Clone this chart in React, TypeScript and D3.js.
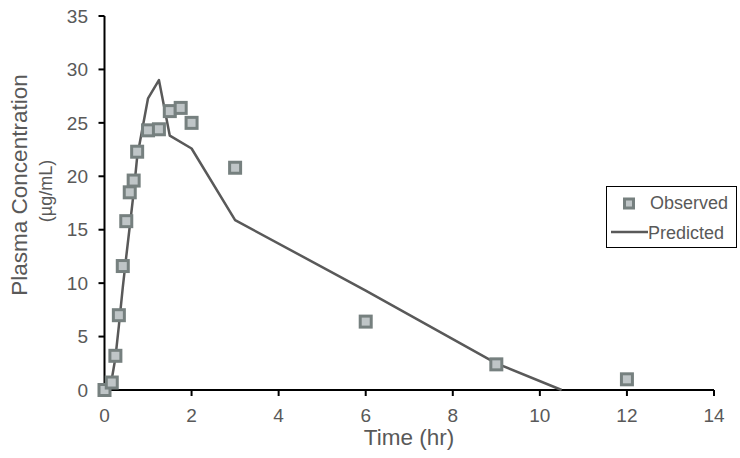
import React from "react";
import * as d3 from "d3";

// Observed plasma concentrations
const obsTime = [0, 0.167, 0.25, 0.33, 0.42, 0.5, 0.58, 0.67, 0.75, 1, 1.25, 1.5, 1.75, 2, 3, 6, 9, 12];
const obsConc = [0, 0.7, 3.2, 7.0, 11.6, 15.8, 18.5, 19.6, 22.3, 24.3, 24.4, 26.1, 26.4, 25.0, 20.8, 6.4, 2.4, 1.0];

// Model-predicted concentrations
const predTime = [0.083, 0.167, 0.25, 0.33, 0.42, 0.5, 0.58, 0.67, 0.75, 1, 1.25, 1.5, 2, 3, 6, 9, 10.5];
const predConc = [0, 1.0, 3.0, 6.0, 9.6, 12.5, 15.3, 18.5, 21.8, 27.3, 29.0, 23.8, 22.6, 15.9, 9.3, 2.5, 0];

const xTicks = [0, 2, 4, 6, 8, 10, 12, 14];
const yTicks = [0, 5, 10, 15, 20, 25, 30, 35];

const W = 740;
const H = 458;
const FONT = "'Liberation Sans', Arial, sans-serif";
const TEXT = "#595959";
const LINE = "#595959";
const MARK_FILL = "#BFC5C7";
const MARK_STROKE = "#76807F";

export default function App() {
  const x = d3.scaleLinear().domain([0, 14]).range([104.5, 714]);
  const y = d3.scaleLinear().domain([0, 35]).range([390, 16]);

  const line = d3
    .line<number>()
    .x((_, i) => x(predTime[i]))
    .y((_, i) => y(predConc[i]));

  const ms = 11;

  return (
    <svg
      width={W}
      height={H}
      style={{ position: "absolute", left: 0, top: 0, background: "#fff" }}
      fontFamily={FONT}
    >
      {/* y axis */}
      <line x1={x(0)} x2={x(0)} y1={y(35)} y2={y(0)} stroke="#000" strokeWidth={2} />
      {yTicks.map((t) => (
        <g key={"y" + t}>
          <line x1={x(0) - 6} x2={x(0)} y1={y(t)} y2={y(t)} stroke="#000" strokeWidth={2} />
          <text x={88} y={y(t)} dy="0.35em" textAnchor="end" fontSize={19} fill={TEXT}>
            {t}
          </text>
        </g>
      ))}

      {/* x axis */}
      <line x1={x(0)} x2={x(14)} y1={y(0)} y2={y(0)} stroke="#000" strokeWidth={2} />
      {xTicks.map((t) => (
        <g key={"x" + t}>
          <line x1={x(t)} x2={x(t)} y1={y(0)} y2={y(0) + 6} stroke="#000" strokeWidth={2} />
          <text x={x(t)} y={422} textAnchor="middle" fontSize={19} fill={TEXT}>
            {t}
          </text>
        </g>
      ))}

      {/* axis titles */}
      <text x={409} y={445} textAnchor="middle" fontSize={22.5} fill={TEXT}>
        Time (hr)
      </text>
      <text
        transform={`translate(19,185) rotate(-90)`}
        dy="0.35em"
        textAnchor="middle"
        fontSize={22.5}
        fill={TEXT}
      >
        Plasma Concentration
      </text>
      <text
        transform={`translate(46,191) rotate(-90)`}
        dy="0.35em"
        textAnchor="middle"
        fontSize={18}
        fill={TEXT}
      >
        (µg/mL)
      </text>

      {/* predicted curve */}
      <path d={line(predConc) ?? ""} fill="none" stroke={LINE} strokeWidth={2.5} strokeLinejoin="round" />

      {/* observed points */}
      {obsConc.map((c, i) => (
        <rect
          key={"o" + i}
          x={x(obsTime[i]) - ms / 2}
          y={y(c) - ms / 2}
          width={ms}
          height={ms}
          fill={MARK_FILL}
          stroke={MARK_STROKE}
          strokeWidth={3}
        />
      ))}

      {/* legend */}
      <rect x={606.5} y={186.5} width={130} height={61} fill="#fff" stroke="#000" strokeWidth={1} />
      <rect x={624.5} y={199} width={9} height={9} fill={MARK_FILL} stroke={MARK_STROKE} strokeWidth={3} />
      <text x={650} y={208.5} fontSize={18} fill={TEXT}>
        Observed
      </text>
      <line x1={611} x2={648} y1={232} y2={232} stroke={LINE} strokeWidth={2.5} />
      <text x={648} y={238.5} fontSize={18} fill={TEXT}>
        Predicted
      </text>
    </svg>
  );
}
